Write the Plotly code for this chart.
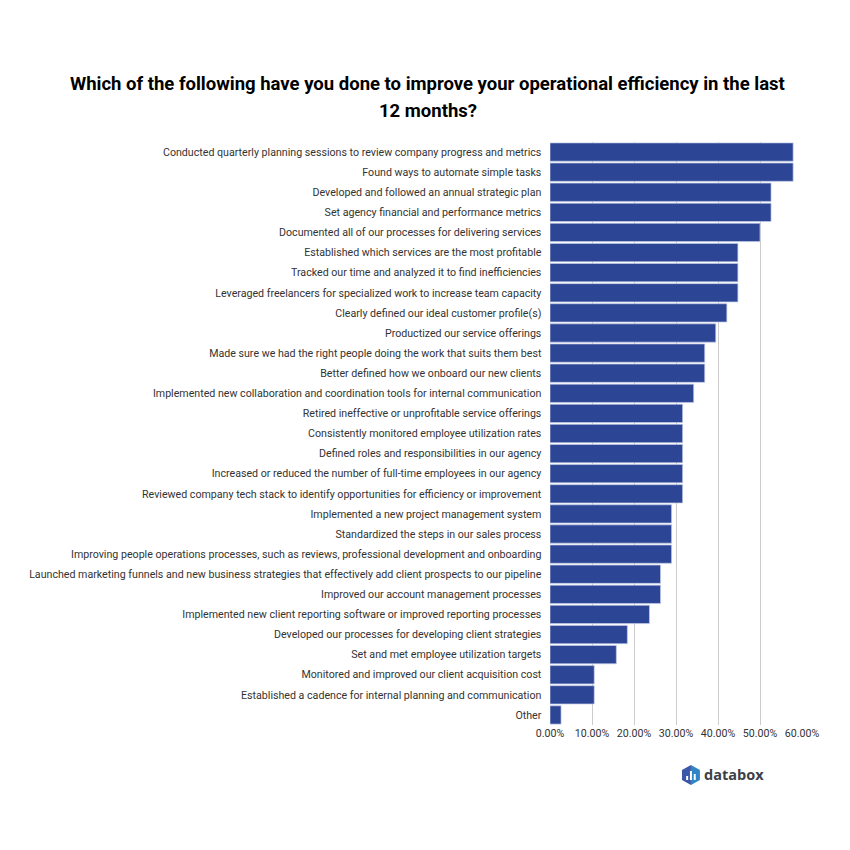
import plotly.graph_objects as go

categories = [
    "Conducted quarterly planning sessions to review company progress and metrics",
    "Found ways to automate simple tasks",
    "Developed and followed an annual strategic plan",
    "Set agency financial and performance metrics",
    "Documented all of our processes for delivering services",
    "Established which services are the most profitable",
    "Tracked our time and analyzed it to find inefficiencies",
    "Leveraged freelancers for specialized work to increase team capacity",
    "Clearly defined our ideal customer profile(s)",
    "Productized our service offerings",
    "Made sure we had the right people doing the work that suits them best",
    "Better defined how we onboard our new clients",
    "Implemented new collaboration and coordination tools for internal communication",
    "Retired ineffective or unprofitable service offerings",
    "Consistently monitored employee utilization rates",
    "Defined roles and responsibilities in our agency",
    "Increased or reduced the number of full-time employees in our agency",
    "Reviewed company tech stack to identify opportunities for efficiency or improvement",
    "Implemented a new project management system",
    "Standardized the steps in our sales process",
    "Improving people operations processes, such as reviews, professional development and onboarding",
    "Launched marketing funnels and new business strategies that effectively add client prospects to our pipeline",
    "Improved our account management processes",
    "Implemented new client reporting software or improved reporting processes",
    "Developed our processes for developing client strategies",
    "Set and met employee utilization targets",
    "Monitored and improved our client acquisition cost",
    "Established a cadence for internal planning and communication",
    "Other",
]
values = [57.89, 57.89, 52.63, 52.63, 50.0, 44.74, 44.74, 44.74, 42.11, 39.47,
          36.84, 36.84, 34.21, 31.58, 31.58, 31.58, 31.58, 31.58, 28.95, 28.95,
          28.95, 26.32, 26.32, 23.68, 18.42, 15.79, 10.53, 10.53, 2.63]
tick_values = [0, 10, 20, 30, 40, 50, 60]
tick_labels = ["0.00%", "10.00%", "20.00%", "30.00%", "40.00%", "50.00%", "60.00%"]
title_line1 = "Which of the following have you done to improve your operational efficiency in the last"
title_line2 = "12 months?"

W = 834          # figure size; the page adds an 8px body margin
OFF = 8
L, R, T, B = 549.5 - OFF, 802.5 - OFF, 142.0 - OFF, 725.0 - OFF
TFS = 10.65

fig = go.Figure(go.Bar(
    y=categories, x=values, orientation="h",
    marker=dict(color="#2c4695", line=dict(color="#c3cce6", width=0.7)),
    hoverinfo="y+x",
))
fig.update_layout(
    width=W, height=W,
    margin=dict(l=L, r=W - R, t=T, b=W - B, autoexpand=False),
    paper_bgcolor="white", plot_bgcolor="white",
    bargap=0.09, showlegend=False,
    font=dict(family="Roboto", size=TFS, color="#333333"),
    xaxis=dict(range=[0, 60], tickvals=tick_values, ticktext=tick_labels,
               showgrid=True, gridcolor="#cccccc", gridwidth=1, zeroline=False,
               showline=False, ticks="", tickfont=dict(size=TFS, color="#333333")),
    yaxis=dict(autorange=False, range=[28.5, -0.5], type="category", categoryorder="array",
               categoryarray=categories, showgrid=False, zeroline=False, showline=False,
               ticks="outside", ticklen=5.5, tickcolor="rgba(0,0,0,0)", tickwidth=0,
               tickfont=dict(size=TFS, color="#333333")),
)

# helpers: page pixel -> plot-fraction coordinates used by xref/yref="paper"
def px(x): return (x - OFF - L) / (R - L)
def py(y): return (B - (y - OFF)) / (B - T)

for text, yc in [(title_line1, 84), (title_line2, 111)]:
    fig.add_annotation(text=f"<b>{text}</b>", xref="paper", yref="paper", x=px(427), y=py(yc),
                       xanchor="center", yanchor="middle", showarrow=False,
                       font=dict(family="Roboto", size=18.5, color="#000000"))

# databox logo
hx, hy, rx, ry = 691, 775, 9, 10
left = [(hx, hy - ry), (hx, hy + ry), (hx - rx, hy + ry / 2), (hx - rx, hy - ry / 2)]
right = [(hx, hy - ry), (hx + rx, hy - ry / 2), (hx + rx, hy + ry / 2), (hx, hy + ry)]
for pts, col in [(left, "#3b58a6"), (right, "#2f86c6")]:
    path = "M " + " L ".join(f"{px(a):.4f},{py(b):.4f}" for a, b in pts) + " Z"
    fig.add_shape(type="path", xref="paper", yref="paper", path=path,
                  fillcolor=col, line=dict(width=0), layer="above")
for bx, top in [(687.2, 776), (691, 771), (694.8, 774)]:
    fig.add_shape(type="rect", xref="paper", yref="paper",
                  x0=px(bx - 1), x1=px(bx + 1), y0=py(780), y1=py(top),
                  fillcolor="white", line=dict(width=0), layer="above")
fig.add_annotation(text="<b>databox</b>", xref="paper", yref="paper", x=px(702.5), y=py(774.5),
                   xanchor="left", yanchor="middle", showarrow=False,
                   font=dict(family="Open Sans", size=14.5, color="#3b4148"))

fig.write_html("out.html")
